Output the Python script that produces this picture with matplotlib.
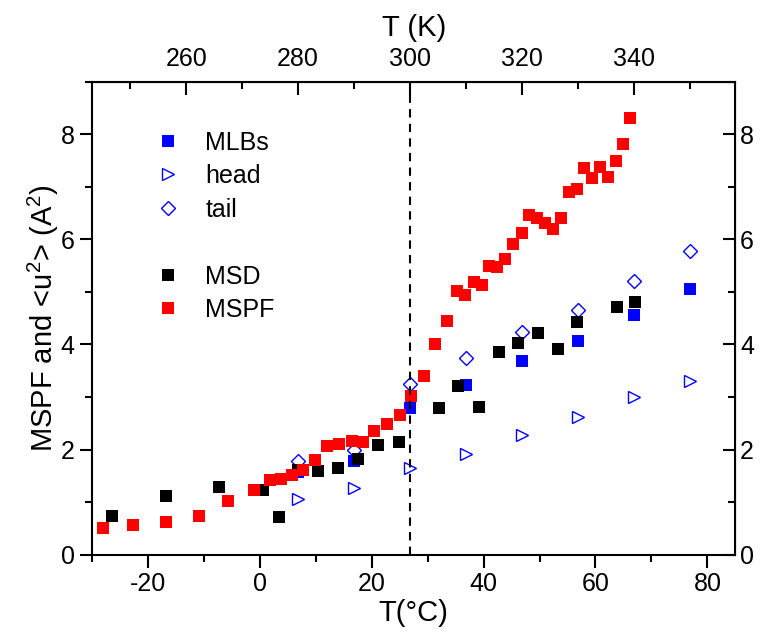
import matplotlib
matplotlib.use('Agg')
import matplotlib.pyplot as plt
from matplotlib.lines import Line2D
from matplotlib.ticker import MultipleLocator

plt.rcParams['font.family'] = ['Liberation Sans', 'DejaVu Sans']
plt.rcParams['mathtext.fontset'] = 'custom'
plt.rcParams['mathtext.rm'] = 'Liberation Sans'
plt.rcParams['axes.unicode_minus'] = False

# data (T in deg C, values in A^2)
mlbs_t = [6.85, 16.85, 26.85, 36.85, 46.85, 56.85, 66.85, 76.85]
mlbs_u = [1.58, 1.79, 2.80, 3.23, 3.68, 4.07, 4.56, 5.06]
head_u = [1.06, 1.26, 1.65, 1.92, 2.28, 2.62, 3.00, 3.31]
tail_u = [1.79, 2.00, 3.24, 3.74, 4.23, 4.66, 5.20, 5.78]

msd_t = [-26.5, -16.8, -7.3, 0.6, 3.5, 6.8, 10.4, 14.0, 17.6, 21.2, 24.8,
         32.0, 35.5, 39.1, 42.7, 46.2, 49.7, 53.3, 56.7, 63.8, 67.0]
msd_u = [0.74, 1.11, 1.28, 1.24, 0.71, 1.61, 1.60, 1.64, 1.82, 2.08, 2.15,
         2.79, 3.21, 2.81, 3.86, 4.02, 4.22, 3.91, 4.42, 4.71, 4.81]

mspf_t = [-28.1, -22.6, -16.7, -10.9, -5.6, -1.1, 1.8, 3.8, 5.7, 7.7, 9.9,
          12.0, 14.2, 16.4, 18.5, 20.5, 22.7, 25.0, 27.0, 29.3, 31.4, 33.4,
          35.2, 36.7, 38.2, 39.7, 41.0, 42.4, 43.8, 45.3, 46.8, 48.2, 49.6,
          51.0, 52.4, 53.8, 55.2, 56.7, 58.0, 59.4, 60.8, 62.2, 63.7, 65.0, 66.2]
mspf_u = [0.51, 0.56, 0.63, 0.74, 1.02, 1.24, 1.42, 1.44, 1.51, 1.62, 1.80,
          2.07, 2.10, 2.17, 2.14, 2.36, 2.48, 2.66, 3.02, 3.40, 4.01, 4.45,
          5.02, 4.94, 5.18, 5.13, 5.50, 5.48, 5.63, 5.92, 6.12, 6.46, 6.41,
          6.32, 6.20, 6.40, 6.91, 6.95, 7.36, 7.17, 7.38, 7.18, 7.50, 7.81, 8.31]

t_transition = 26.85  # 300 K

fig = plt.figure(figsize=(7.66, 6.39), dpi=100)
ax = fig.add_axes([0.120, 0.132, 0.840, 0.740])

ax.plot(mlbs_t, mlbs_u, 's', color='blue', ms=8.6, mew=0, label='MLBs')
ax.plot(mlbs_t, head_u, '>', mfc='none', mec='blue', ms=9, mew=1.0, label='head')
ax.plot(mlbs_t, tail_u, 'D', mfc='none', mec='blue', ms=7.5, mew=1.0, label='tail')
ax.plot(msd_t, msd_u, 's', color='black', ms=8.6, mew=0, label='MSD')
ax.plot(mspf_t, mspf_u, 's', color='red', ms=8.6, mew=0, label='MSPF')
ax.axvline(t_transition, color='black', lw=1.5, ls=(0, (4, 3)))

ax.set_xlim(-30, 85)
ax.set_ylim(0, 9)
ax.xaxis.set_major_locator(MultipleLocator(20))
ax.xaxis.set_minor_locator(MultipleLocator(10))
ax.yaxis.set_major_locator(MultipleLocator(2))
ax.yaxis.set_minor_locator(MultipleLocator(1))
ax.tick_params(which='both', direction='out', labelsize=18, width=1.5)
ax.tick_params(which='major', length=9)
ax.tick_params(which='minor', length=5)
for s in ax.spines.values():
    s.set_linewidth(1.5)

ax.set_xlabel('T(°C)', fontsize=21, labelpad=2)
ax.set_ylabel('MSPF and <u$^2$> (A$^2$)', fontsize=21, labelpad=0)

# Kelvin on top, mirrored y on the right
top = ax.secondary_xaxis('top', functions=(lambda c: c + 273.15, lambda k: k - 273.15))
top.xaxis.set_major_locator(MultipleLocator(20))
top.xaxis.set_minor_locator(MultipleLocator(10))
top.tick_params(which='both', direction='in', labelsize=18, width=1.5, pad=8)
top.tick_params(which='major', length=9)
top.tick_params(which='minor', length=5)
top.set_xlabel('T (K)', fontsize=21, labelpad=8)

right = ax.secondary_yaxis('right')
right.yaxis.set_major_locator(MultipleLocator(2))
right.yaxis.set_minor_locator(MultipleLocator(1))
right.tick_params(which='both', direction='in', labelsize=18, width=1.5)
right.tick_params(which='major', length=9)
right.tick_params(which='minor', length=5)

handles, labels = ax.get_legend_handles_labels()
blank = Line2D([], [], linestyle='none', marker=None)
handles = handles[:3] + [blank] + handles[3:]
labels = labels[:3] + [' '] + labels[3:]
ax.legend(handles, labels, loc='upper left', bbox_to_anchor=(0.079, 0.918),
          frameon=False, fontsize=18, handletextpad=0.9, labelspacing=0.38,
          handlelength=1.2, borderaxespad=0)

fig.savefig('out.png', dpi=100)
